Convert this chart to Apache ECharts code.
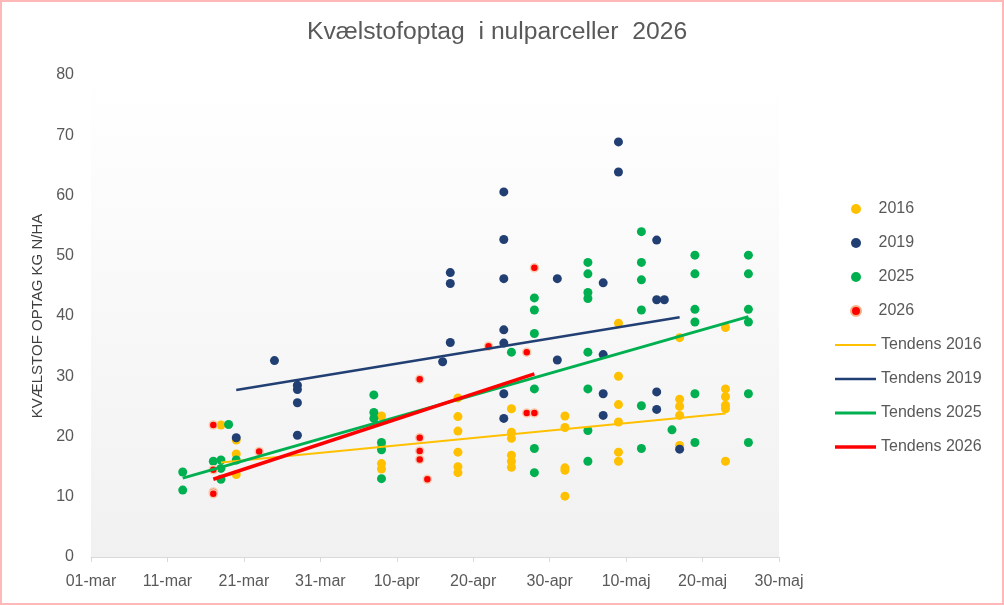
<!DOCTYPE html>
<html>
<head>
<meta charset="utf-8">
<script src="https://cdn.jsdelivr.net/npm/echarts@6/dist/echarts.min.js"></script>
<style>
html,body{margin:0;padding:0;background:#ffffff;}
#c{width:1004px;height:605px;}
</style>
</head>
<body>
<div id="c"></div>
<script>
// x values are days after 01-mar
const xTickLabels = ['01-mar','11-mar','21-mar','31-mar','10-apr','20-apr','30-apr','10-maj','20-maj','30-maj'];
const yTicks = [0,10,20,30,40,50,60,70,80];

const s2016 = [
  [17,21.9],
  [19,19.4],[19,17.1],[19,13.7],
  [38,23.4],[38,18.3],[38,15.5],[38,14.6],
  [48,26.4],[48,23.3],[48,20.9],[48,17.4],[48,15.0],[48,14.0],
  [55,24.6],[55,20.7],[55,19.7],[55,16.9],[55,15.9],[55,14.9],
  [62,23.4],[62,21.5],[62,14.8],[62,14.4],[62,10.1],
  [69,38.8],[69,30.0],[69,25.3],[69,22.4],[69,17.4],[69,15.9],
  [77,36.4],[77,26.2],[77,25.0],[77,23.5],[77,18.5],
  [83,38.1],[83,27.9],[83,26.6],[83,25.2],[83,24.6],[83,15.9]
];
const s2019 = [
  [19,19.8],
  [24,32.6],
  [27,28.5],[27,27.8],[27,25.6],[27,20.2],
  [46,32.4],
  [47,47.2],[47,45.4],[47,35.6],
  [54,60.6],[54,52.7],[54,46.2],[54,37.7],[54,35.5],[54,27.1],[54,23.0],
  [61,46.2],[61,32.7],
  [67,45.5],[67,33.6],[67,27.1],[67,23.5],
  [69,68.9],[69,63.9],
  [74,52.6],[74,42.7],[74,27.4],[74,24.5],
  [75,42.7],
  [77,17.9]
];
const s2025 = [
  [12,14.1],[12,11.1],
  [16,15.9],
  [17,16.1],[17,14.7],[17,12.9],
  [18,22.0],
  [19,16.1],
  [37,26.9],[37,24.0],[37,23.0],
  [38,19.0],[38,17.8],[38,13.0],
  [55,34.0],
  [58,43.0],[58,41.0],[58,37.1],[58,27.9],[58,18.0],[58,14.0],
  [65,48.9],[65,47.0],[65,43.9],[65,42.9],[65,34.0],[65,27.9],[65,21.0],[65,15.9],
  [72,54.0],[72,48.9],[72,46.0],[72,41.0],[72,25.1],[72,18.0],
  [76,21.1],
  [79,50.1],[79,47.0],[79,41.1],[79,39.0],[79,27.1],[79,19.0],
  [86,50.1],[86,47.0],[86,41.1],[86,39.0],[86,27.1],[86,19.0]
];
const s2026 = [
  [16,21.9],[16,14.5],[16,10.8],[16,10.5],
  [22,17.5],
  [43,29.5],[43,19.8],[43,17.6],[43,16.2],
  [44,12.9],
  [52,35.0],
  [57,34.0],[57,23.9],
  [58,48.0],[58,23.9]
];
const trend2016 = [[17,15.7],[83,23.8]];
const trend2019 = [[19,27.7],[77,39.8]];
const trend2025 = [[12,13.1],[86,39.9]];
const trend2026 = [[16,12.9],[58,30.4]];

const C16 = '#FFC000', C19 = '#223F73', C25 = '#00B050', C26 = '#FF0000';
const FONT = "'Liberation Sans', Arial, sans-serif";
const GREY = '#595959';

const chart = echarts.init(document.getElementById('c'), null, {renderer: 'canvas'});

function scatter(name, data, color, extra) {
  return Object.assign({
    name: name, type: 'scatter', data: data, symbol: 'circle', symbolSize: 9,
    itemStyle: {color: color, opacity: 1},
    emphasis: {disabled: true}
  }, extra || {});
}
function trend(name, data, color, w) {
  return {
    name: name, type: 'line', data: data, symbol: 'none', showSymbol: false,
    lineStyle: {color: color, width: w}, itemStyle: {color: color},
    emphasis: {disabled: true}, z: 3
  };
}
function bar(w) { return 'path://M0,0H41V' + w + 'H0Z'; }

chart.setOption({
  animation: false,
  backgroundColor: '#ffffff',
  textStyle: {fontFamily: FONT},
  title: {
    text: 'Kvælstofoptag  i nulparceller  2026',
    left: 307, top: 20, padding: 0,
    textStyle: {fontFamily: FONT, fontSize: 24.7, fontWeight: 'normal', color: GREY}
  },
  graphic: [{
    type: 'rect', silent: true, z: 100,
    shape: {x: 1, y: 1, width: 1002, height: 603},
    style: {fill: 'none', stroke: '#FFB8B8', lineWidth: 2}
  }],
  grid: {
    left: 91, right: 225, top: 75, bottom: 48,
    show: true, borderWidth: 0,
    backgroundColor: new echarts.graphic.LinearGradient(0, 0, 0, 1, [
      {offset: 0, color: '#ffffff'}, {offset: 1, color: '#f1f1f1'}
    ])
  },
  xAxis: {
    type: 'value', min: 0, max: 90, interval: 10,
    axisLine: {show: true, lineStyle: {color: '#D9D9D9', width: 1}},
    axisTick: {show: true, length: 5, lineStyle: {color: '#D9D9D9'}},
    splitLine: {show: false},
    axisLabel: {
      margin: 17, fontSize: 16, color: GREY, fontFamily: FONT,
      formatter: function (v) { return xTickLabels[Math.round(v / 10)]; }
    }
  },
  yAxis: {
    type: 'value', min: yTicks[0], max: yTicks[yTicks.length - 1], interval: 10,
    axisLine: {show: false}, axisTick: {show: false}, splitLine: {show: false},
    axisLabel: {margin: 17, fontSize: 16, color: GREY, fontFamily: FONT},
    name: 'KVÆLSTOF OPTAG KG N/HA', nameLocation: 'middle', nameGap: 46, nameRotate: 90,
    nameTextStyle: {fontSize: 15, color: '#404040', fontFamily: FONT}
  },
  legend: [{
    orient: 'vertical', left: 850, top: 199, padding: 0,
    itemWidth: 35, itemHeight: 10, itemGap: 14,
    textStyle: {fontSize: 16, color: GREY, lineHeight: 20, fontFamily: FONT},
    data: [
      {name: '2016', icon: 'circle'}, {name: '2019', icon: 'circle'}, {name: '2025', icon: 'circle'},
      {name: '2026', icon: 'circle', itemStyle: {color: C26, borderColor: '#F4B183', borderWidth: 2}}
    ],
    selectedMode: false
  }, {
    orient: 'vertical', left: 835, top: 335, padding: 0,
    itemWidth: 41, itemHeight: 14, itemGap: 14,
    textStyle: {fontSize: 16, color: GREY, lineHeight: 20, fontFamily: FONT},
    data: [
      {name: 'Tendens 2016', icon: bar(2)},
      {name: 'Tendens 2019', icon: bar(2.5)},
      {name: 'Tendens 2025', icon: bar(3)},
      {name: 'Tendens 2026', icon: bar(3.5)}
    ],
    selectedMode: false
  }],
  series: [
    scatter('2016', s2016, C16),
    scatter('2019', s2019, C19),
    scatter('2025', s2025, C25),
    scatter('2026', s2026, C26, {symbolSize: 8, itemStyle: {color: C26, borderColor: '#F8CBAD', borderWidth: 1.5, opacity: 1}}),
    trend('Tendens 2016', trend2016, C16, 2),
    trend('Tendens 2019', trend2019, C19, 2.5),
    trend('Tendens 2025', trend2025, C25, 3),
    trend('Tendens 2026', trend2026, C26, 3.5)
  ]
});
</script>
</body>
</html>
